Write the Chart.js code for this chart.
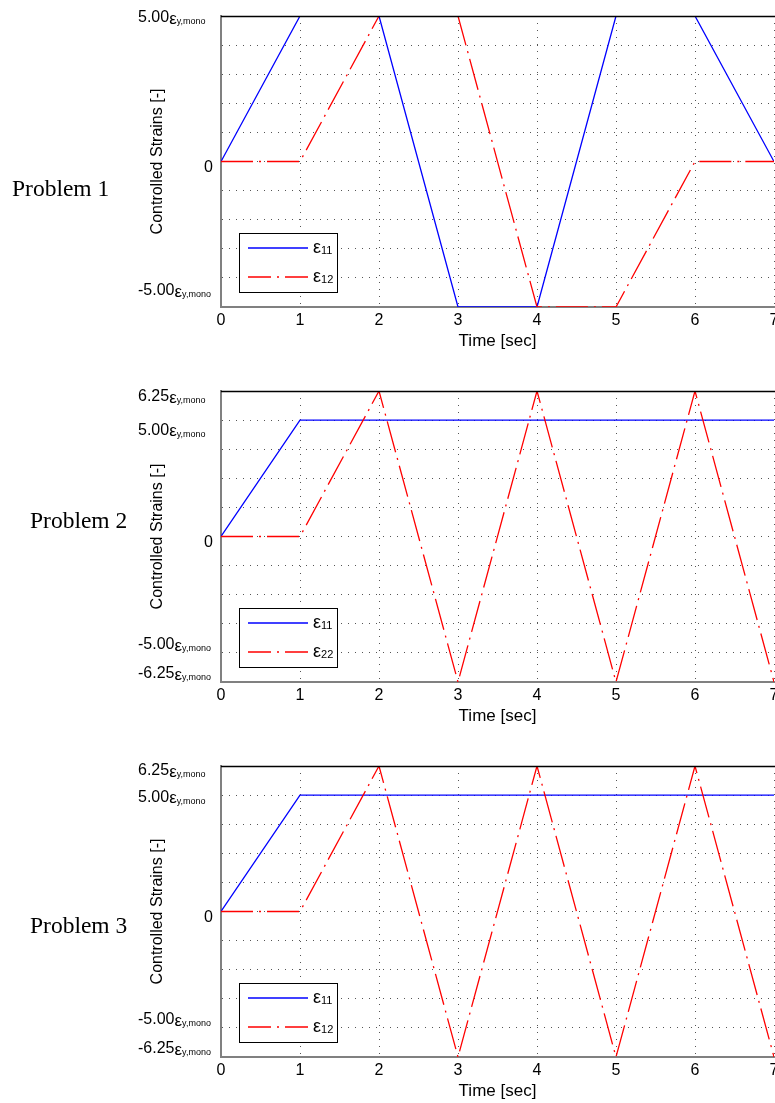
<!DOCTYPE html>
<html>
<head>
<meta charset="utf-8">
<script src="https://cdn.jsdelivr.net/npm/chart.js@4.4.0/dist/chart.umd.min.js"></script>
<style>
html, body { margin: 0; padding: 0; background: #fff; overflow: hidden; width: 775px; height: 1103px; }
.panel { position: absolute; left: 0; width: 800px; height: 375px; }
</style>
</head>
<body>
<div class="panel" style="top:0px"><canvas id="p1" width="800" height="375"></canvas></div>
<div class="panel" style="top:375px"><canvas id="p2" width="800" height="375"></canvas></div>
<div class="panel" style="top:750px"><canvas id="p3" width="800" height="375"></canvas></div>
<script>
// time axis
const timeSec = [0, 1, 2, 3, 4, 5, 6, 7];

// Problem 1
const p1Eps11 = [0, 5, 5, -5, -5, 5, 5, 0];
const p1Eps12 = [0, 0, 5, 5, -5, -5, 0, 0];
const p1Names = ['ε11', 'ε12'];
const p1YLabels = [5, 0, -5];

// Problem 2
const p2Eps11 = [0, 5, 5, 5, 5, 5, 5, 5];
const p2Eps22 = [0, 0, 6.25, -6.25, 6.25, -6.25, 6.25, -6.25];
const p2Names = ['ε11', 'ε22'];
const p2YLabels = [6.25, 5, 0, -5, -6.25];

// Problem 3
const p3Eps11 = [0, 5, 5, 5, 5, 5, 5, 5];
const p3Eps12 = [0, 0, 6.25, -6.25, 6.25, -6.25, 6.25, -6.25];
const p3Names = ['ε11', 'ε12'];
const p3YLabels = [6.25, 5, 0, -5, -6.25];

const problemNames = ['Problem 1', 'Problem 2', 'Problem 3'];

const SANS = '"Liberation Sans", Arial, sans-serif';
const SERIF = '"Liberation Serif", "Times New Roman", serif';
Chart.defaults.font.family = SANS;
Chart.defaults.color = '#000';

// draws frame top, y labels with subscripts, legend box and the problem name
const panelDecor = {
    id: 'panelDecor',
    afterDraw(chart) {
        const o = chart.options.plugins.panelDecor;
        const ctx = chart.ctx;
        const a = chart.chartArea;
        const y = chart.scales.y;
        ctx.save();

        // top border
        ctx.strokeStyle = '#000';
        ctx.lineWidth = 1.3;
        ctx.beginPath();
        ctx.moveTo(a.left, a.top + 0.5);
        ctx.lineTo(a.right + 30, a.top + 0.5);
        ctx.stroke();

        // y labels
        ctx.fillStyle = '#000';
        ctx.textBaseline = 'middle';
        o.yLabels.forEach((v, i) => {
            const py = y.getPixelForValue(v) + o.nudge[i];
            if (v === 0) {
                ctx.font = '16px ' + SANS;
                ctx.textAlign = 'right';
                ctx.fillText('0', a.left - 8, py);
            } else {
                ctx.textAlign = 'left';
                let px = a.left - 83;
                const num = v.toFixed(2);
                ctx.font = '16px ' + SANS;
                ctx.fillText(num, px, py);
                px += ctx.measureText(num).width;
                ctx.font = '17px ' + SANS;
                ctx.fillText('ε', px, py + 1);
                px += ctx.measureText('ε').width;
                ctx.font = '9px ' + SANS;
                ctx.fillText('y,mono', px, py + 4);
            }
        });

        // legend
        const bx = a.left + 18, by = a.top + 217;
        ctx.fillStyle = '#fff';
        ctx.fillRect(bx, by, 98, 59);
        ctx.strokeStyle = '#000';
        ctx.lineWidth = 1;
        ctx.strokeRect(bx + 0.5, by + 0.5, 98, 59);
        chart.data.datasets.forEach((ds, i) => {
            const ly = by + 15 + i * 29;
            ctx.strokeStyle = ds.borderColor;
            ctx.lineWidth = 1.3;
            ctx.setLineDash(ds.borderDash ? [23, 6, 2, 6] : []);
            ctx.beginPath();
            ctx.moveTo(bx + 9, ly);
            ctx.lineTo(bx + 69, ly);
            ctx.stroke();
            ctx.setLineDash([]);
            ctx.fillStyle = '#000';
            ctx.textAlign = 'left';
            ctx.font = '18px ' + SANS;
            const base = ds.label.charAt(0);
            ctx.fillText(base, bx + 74, ly);
            const w = ctx.measureText(base).width;
            ctx.font = '11px ' + SANS;
            ctx.fillText(ds.label.slice(1), bx + 74 + w, ly + 3);
        });

        // problem name
        ctx.fillStyle = '#000';
        ctx.font = '23.5px ' + SERIF;
        ctx.textAlign = 'left';
        ctx.textBaseline = 'middle';
        ctx.fillText(o.problem, o.probX, a.top + o.probDy);
        ctx.restore();
    }
};

function makePanel(canvasId, blue, red, names, yLabels, yMax, yStep, problem, probX, probDy, nudge) {
    const ctx = document.getElementById(canvasId);
    const toPts = vals => timeSec.map((t, i) => ({ x: t, y: vals[i] }));
    const gridStyle = { color: '#555', lineWidth: 1, drawTicks: false };
    const borderStyle = { display: true, color: '#808080', width: 2, dash: [1, 6] };

    return new Chart(ctx, {
        type: 'line',
        data: {
            datasets: [
                {
                    label: names[0],
                    data: toPts(blue),
                    borderColor: '#0000ff',
                    borderWidth: 1.3,
                    pointRadius: 0,
                    tension: 0,
                    fill: false,
                    order: 1
                },
                {
                    label: names[1],
                    data: toPts(red),
                    borderColor: '#ff0000',
                    borderWidth: 1.3,
                    borderDash: [32, 6, 2, 6],
                    pointRadius: 0,
                    tension: 0,
                    fill: false,
                    order: 0
                }
            ]
        },
        options: {
            responsive: false,
            animation: false,
            devicePixelRatio: 1,
            layout: { padding: { left: 148, top: 16, right: 26, bottom: 23 } },
            plugins: {
                legend: { display: false },
                tooltip: { enabled: false },
                panelDecor: { yLabels, problem, probX, probDy, nudge }
            },
            scales: {
                x: {
                    type: 'linear',
                    min: 0,
                    max: 7,
                    ticks: { stepSize: 1, color: '#000', font: { size: 16 }, padding: 4 },
                    grid: gridStyle,
                    border: borderStyle,
                    title: { display: true, text: 'Time [sec]', color: '#000', font: { size: 17 }, padding: 0 },
                    afterFit(s) { s.height = 45; }
                },
                y: {
                    type: 'linear',
                    min: -yMax,
                    max: yMax,
                    ticks: { stepSize: yStep, display: false },
                    grid: gridStyle,
                    border: borderStyle,
                    title: { display: true, text: 'Controlled Strains [-]', color: '#000', font: { size: 16 }, padding: 0 },
                    afterFit(s) { s.width = 73; }
                }
            }
        },
        plugins: [panelDecor]
    });
}

makePanel('p1', p1Eps11, p1Eps12, p1Names, p1YLabels, 5, 1, problemNames[0], 12, 174, [2, 6, -16]);
makePanel('p2', p2Eps11, p2Eps22, p2Names, p2YLabels, 6.25, 1.25, problemNames[1], 30, 131, [6, 10, 6, -8, -8]);
makePanel('p3', p3Eps11, p3Eps12, p3Names, p3YLabels, 6.25, 1.25, problemNames[2], 30, 161, [5, 2, 6, -8, -8]);
</script>
</body>
</html>
